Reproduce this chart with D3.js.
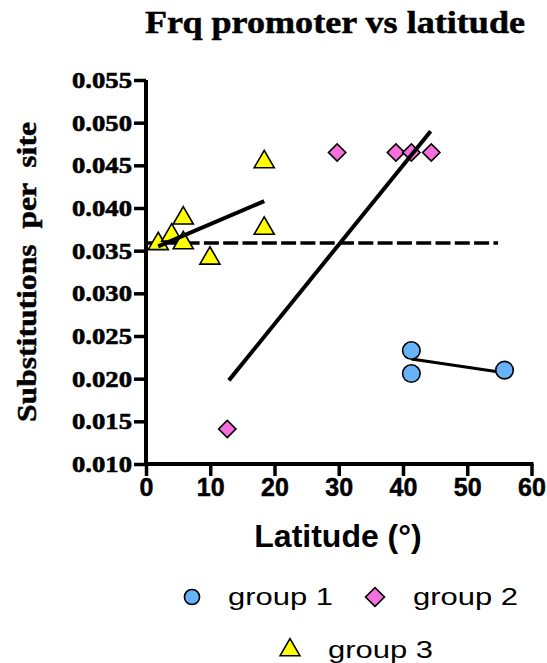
<!DOCTYPE html>
<html>
<head>
<meta charset="utf-8">
<script src="https://cdn.jsdelivr.net/npm/d3@7"></script>
<style>
  body { margin: 0; background: #fff; }
  svg { display: block; }
</style>
</head>
<body>
<script>
// values
const group1Lat = [41.3, 41.3, 55.8];
const group1Sub = [0.0233, 0.0206, 0.0210];
const group2Lat = [12.65, 29.75, 38.9, 41.3, 44.4];
const group2Sub = [0.0141, 0.0465, 0.0465, 0.0465, 0.0465];
const group3Lat = [1.9, 4.0, 5.8, 5.8, 9.95, 18.4, 18.4];
const group3Sub = [0.0358, 0.0368, 0.0388, 0.0359, 0.0341, 0.0454, 0.0376];

// fitted lines as drawn: [lat start, lat end], [sub start, sub end]
const fit1Lat = [41.3, 55.8], fit1Sub = [0.0223, 0.0207];
const fit2Lat = [12.9, 44.3], fit2Sub = [0.0198, 0.0490];
const fit3Lat = [1.9, 18.4], fit3Sub = [0.0355, 0.0408];
const meanLat = [0, 54.8], meanSub = [0.0359, 0.0359];

const xTicks = [0, 10, 20, 30, 40, 50, 60];
const yTicks = [0.010, 0.015, 0.020, 0.025, 0.030, 0.035, 0.040, 0.045, 0.050, 0.055];
const groupNames = ["group 1", "group 2", "group 3"];

const width = 547;
const height = 663;

const blue = "#66b3f7";
const pink = "#f570dc";
const yellow = "#ffff00";

const svg = d3
  .select("body")
  .append("svg")
  .attr("width", width)
  .attr("height", height);

const x = d3.scaleLinear().domain([0, 60]).range([146, 531.5]);
const y = d3.scaleLinear().domain([0.010, 0.055]).range([464, 80]);

// title
svg
  .append("text")
  .attr("x", 335)
  .attr("y", 33)
  .attr("text-anchor", "middle")
  .attr("font-family", "Liberation Serif")
  .attr("font-weight", "bold")
  .attr("font-size", 32)
  .attr("stroke", "#000")
  .attr("stroke-width", 0.5)
  .attr("textLength", 380)
  .attr("lengthAdjust", "spacingAndGlyphs")
  .text("Frq promoter vs latitude");

// axes
const yAxis = svg
  .append("g")
  .attr("transform", `translate(${x(0)},0)`)
  .call(
    d3.axisLeft(y)
      .tickValues(yTicks)
      .tickFormat(d3.format(".3f"))
      .tickSize(12)
      .tickPadding(2)
  );
yAxis
  .select(".domain")
  .style("stroke-width", "4px")
  .attr("d", `M0,${y(0.055)}V${y(0.010) + 2}`);
yAxis.selectAll(".tick line").style("stroke-width", "3.5px");
yAxis
  .selectAll(".tick text")
  .style("font-family", "'Liberation Serif'")
  .style("font-weight", "bold")
  .style("font-size", "23px")
  .attr("fill", "#000")
  .attr("stroke", "#000")
  .attr("stroke-width", 0.6)
  .attr("textLength", 60)
  .attr("lengthAdjust", "spacingAndGlyphs");

const xAxis = svg
  .append("g")
  .attr("transform", `translate(0,${y(0.010)})`)
  .call(d3.axisBottom(x).tickValues(xTicks).tickSize(12).tickPadding(2));
xAxis
  .select(".domain")
  .style("stroke-width", "4px")
  .attr("d", `M${x(0) - 2},0H${x(60) + 2}`);
xAxis.selectAll(".tick line").style("stroke-width", "3.5px");
xAxis
  .selectAll(".tick text")
  .style("font-family", "'Liberation Sans'")
  .style("font-weight", "bold")
  .style("font-size", "25px")
  .attr("fill", "#000")
  .attr("stroke", "#000")
  .attr("stroke-width", 0.5);

// axis titles
svg
  .append("text")
  .attr("transform", `translate(36,${(y(0.010) + y(0.055)) / 2}) rotate(-90)`)
  .attr("text-anchor", "middle")
  .attr("font-family", "Liberation Serif")
  .attr("font-weight", "bold")
  .attr("font-size", 28)
  .attr("stroke", "#000")
  .attr("stroke-width", 0.5)
  .attr("textLength", 300)
  .attr("lengthAdjust", "spacingAndGlyphs")
  .style("white-space", "pre")
  .text("Substitutions  per  site");

svg
  .append("text")
  .attr("x", 338)
  .attr("y", 547)
  .attr("text-anchor", "middle")
  .attr("font-family", "Liberation Sans")
  .attr("font-weight", "bold")
  .attr("font-size", 32)
  .text("Latitude (°)");

const line = d3.line().x((d) => x(d[0])).y((d) => y(d[1]));
const zip = (a, b) => a.map((v, i) => [v, b[i]]);

// dashed mean line
svg
  .append("path")
  .attr("d", line(zip(meanLat, meanSub)))
  .attr("stroke", "#000")
  .attr("stroke-width", 3.5)
  .attr("stroke-dasharray", "15,4.3")
  .attr("fill", "none");

// group 1 fit sits behind its circles
svg
  .append("path")
  .attr("d", line(zip(fit1Lat, fit1Sub)))
  .attr("stroke", "#000")
  .attr("stroke-width", 3)
  .attr("fill", "none");

const circleSym = d3.symbol().type(d3.symbolCircle).size(240);
const squareSym = d3.symbol().type(d3.symbolSquare).size(150);
const triSym = d3.symbol().type(d3.symbolTriangle).size(175);

function drawPoints(lat, sub, sym, fill, rot) {
  svg
    .append("g")
    .selectAll("path")
    .data(zip(lat, sub))
    .join("path")
    .attr("transform", (d) => `translate(${x(d[0])},${y(d[1])}) rotate(${rot})`)
    .attr("d", sym)
    .attr("fill", fill)
    .attr("stroke", "#000")
    .attr("stroke-width", 1.6);
}

drawPoints(group1Lat, group1Sub, circleSym, blue, 0);
drawPoints(group2Lat, group2Sub, squareSym, pink, 45);
drawPoints(group3Lat, group3Sub, triSym, yellow, 0);

// fits for groups 2 and 3 drawn over the points
[[fit2Lat, fit2Sub], [fit3Lat, fit3Sub]].forEach(([a, b]) => {
  svg
    .append("path")
    .attr("d", line(zip(a, b)))
    .attr("stroke", "#000")
    .attr("stroke-width", 4)
    .attr("fill", "none");
});

// legend
const legend = [
  { name: groupNames[0], sym: d3.symbol().type(d3.symbolCircle).size(180), fill: blue, rot: 0, mx: 192, my: 597, tx: 228, ty: 605 },
  { name: groupNames[1], sym: d3.symbol().type(d3.symbolSquare).size(180), fill: pink, rot: 45, mx: 375, my: 597, tx: 413, ty: 605 },
  { name: groupNames[2], sym: d3.symbol().type(d3.symbolTriangle).size(170), fill: yellow, rot: 0, mx: 290, my: 650, tx: 328, ty: 658 },
];

const items = svg.append("g").selectAll("g").data(legend).join("g");
items
  .append("path")
  .attr("transform", (d) => `translate(${d.mx},${d.my}) rotate(${d.rot})`)
  .attr("d", (d) => d.sym())
  .attr("fill", (d) => d.fill)
  .attr("stroke", "#000")
  .attr("stroke-width", 1.6);
items
  .append("text")
  .attr("x", (d) => d.tx)
  .attr("y", (d) => d.ty)
  .attr("font-family", "Liberation Sans")
  .attr("font-size", 24)
  .attr("textLength", 105)
  .attr("lengthAdjust", "spacingAndGlyphs")
  .style("white-space", "pre")
  .text((d) => d.name);
</script>
</body>
</html>
